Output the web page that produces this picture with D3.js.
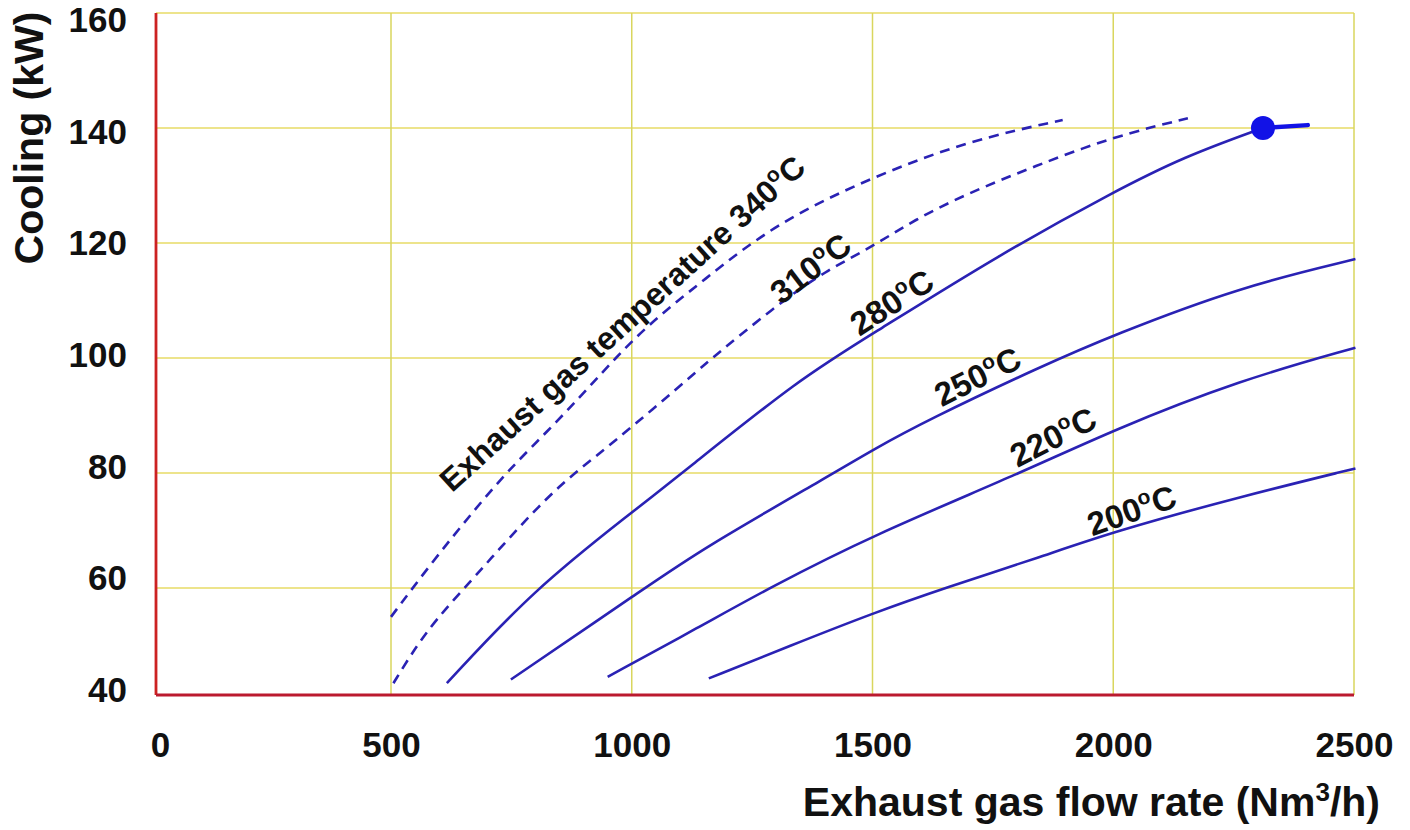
<!DOCTYPE html>
<html>
<head>
<meta charset="utf-8">
<script src="https://cdn.jsdelivr.net/npm/d3@7"></script>
<style>
  html, body { margin: 0; padding: 0; background: #ffffff; }
  svg { display: block; font-family: "Liberation Sans", Arial, sans-serif; }
</style>
</head>
<body>
<svg id="chart" width="1410" height="830"></svg>
<script>
// ---- data ----
const xTicks = [0, 500, 1000, 1500, 2000, 2500];
const yTicks = [40, 60, 80, 100, 120, 140, 160];

const flow340 = [500, 590, 665, 740, 845, 940, 1025, 1150, 1300, 1500, 1700, 1895];
const cool340 = [54.6, 65, 72.7, 80.2, 88.9, 97.6, 105.2, 113.6, 123.5, 131.5, 137.8, 141.4];

const flow310 = [505, 543, 592, 668, 723, 786, 855, 924, 1000, 1090, 1163, 1212, 1316, 1406, 1501, 1586, 1697, 1835, 2000, 2155];
const cool310 = [42.2, 47.8, 54, 61.4, 66.6, 72.4, 78.2, 82.8, 88, 94.4, 99.7, 103.1, 110.1, 115.3, 119.4, 124, 128.6, 133.3, 138.5, 141.7];

const flow280 = [616, 795, 1001, 1105, 1350, 1502, 1766, 2001, 2147, 2311];
const cool280 = [42.2, 59.6, 73.2, 80, 96.5, 104.3, 118.1, 128.9, 135, 140];

const flow250 = [749, 1028, 1142, 1420, 1500, 1614, 1849, 2000, 2265, 2503];
const cool250 = [42.9, 60, 66.6, 80, 84, 89.2, 98.5, 104, 112.4, 117.2];

const flow220 = [950, 1142, 1285, 1501, 1808, 2000, 2265, 2503];
const cool220 = [43.4, 52.8, 60, 69.2, 80, 87.5, 96.2, 101.8];

const flow200 = [1160, 1329, 1501, 1650, 1849, 2000, 2265, 2503];
const cool200 = [43.1, 49.2, 55.3, 60, 65.4, 69.8, 75.9, 80.8];

const pointFlow = [2311, 2404];
const pointCool = [140, 140.5];

const labelTexts = ["Exhaust gas temperature 340", "310", "280", "250", "220", "200"];
const labelFlow  = [996, 1386, 1553, 1729, 1886, 2046];
const labelCool  = [104.6, 114, 108, 95, 84.5, 71.6];
const labelAngle = [-42.3, -37.5, -32.7, -26.6, -27, -19.4];

// ---- scales ----
const svg = d3.select("#chart");
const x = d3.scaleLinear().domain([0, 500, 2500]).range([156, 391, 1354]);
const y = d3.scaleLinear().domain([40, 60, 160]).range([695, 588, 13]);
// tick labels in the reference sit on a slightly different spacing than the grid
const yLab = d3.scaleLinear().domain([40, 160]).range([690, 20.5]);

// ---- grid ----
const grid = svg.append("g");
grid.selectAll("line.h").data(yTicks.filter(v => v > 40)).enter().append("line")
  .attr("x1", x(0)).attr("x2", x(2500))
  .attr("y1", d => y(d)).attr("y2", d => y(d))
  .attr("stroke", "#ede48c").attr("stroke-width", 2.2);
grid.selectAll("line.v").data(xTicks.filter(v => v > 0)).enter().append("line")
  .attr("x1", d => x(d)).attr("x2", d => x(d))
  .attr("y1", y(160)).attr("y2", y(40))
  .attr("stroke", "#d9d65e").attr("stroke-width", 1.5);

// ---- red axes ----
svg.append("line").attr("x1", x(0)).attr("x2", x(0)).attr("y1", y(160)).attr("y2", y(40))
  .attr("stroke", "#cc2222").attr("stroke-width", 2.8);
svg.append("line").attr("x1", x(0)).attr("x2", x(2500)).attr("y1", y(40)).attr("y2", y(40))
  .attr("stroke", "#bb1a2e").attr("stroke-width", 3.2);

// ---- tick labels via d3 axes ----
const yAxis = svg.append("g").attr("transform", `translate(${x(0)},0)`)
  .call(d3.axisLeft(yLab).tickValues(yTicks).tickSize(0).tickPadding(29).tickFormat(d3.format("d")));
yAxis.select(".domain").remove();
yAxis.selectAll("text").attr("font-size", 35).attr("font-weight", "bold")
  .attr("fill", "#111").attr("font-family", "Liberation Sans, Arial, sans-serif");

const xAxis = svg.append("g").attr("transform", `translate(0,${y(40)})`)
  .call(d3.axisBottom(x).tickValues(xTicks).tickSize(0).tickPadding(37).tickFormat(d3.format("d")));
xAxis.select(".domain").remove();
xAxis.selectAll("text").attr("font-size", 35).attr("font-weight", "bold")
  .attr("fill", "#111").attr("font-family", "Liberation Sans, Arial, sans-serif");
xAxis.selectAll(".tick").filter(d => d === 0).select("text").attr("dx", 4);

// ---- axis titles ----
svg.append("text").attr("transform", "translate(43,138) rotate(-90)")
  .attr("text-anchor", "middle").attr("font-size", 41).attr("font-weight", "bold")
  .attr("fill", "#111").text("Cooling (kW)");

const xt = svg.append("text").attr("x", 1380).attr("y", 816)
  .attr("text-anchor", "end").attr("font-size", 41).attr("font-weight", "bold").attr("fill", "#111");
xt.append("tspan").text("Exhaust gas flow rate (Nm");
xt.append("tspan").attr("font-size", 26).attr("dy", -15).text("3");
xt.append("tspan").attr("dy", 15).text("/h)");

// ---- curves ----
const line = d3.line().x(d => x(d[0])).y(d => y(d[1])).curve(d3.curveBasis);
const series = [
  {f: flow340, c: cool340, dash: "10,7"},
  {f: flow310, c: cool310, dash: "10,7"},
  {f: flow280, c: cool280, dash: null},
  {f: flow250, c: cool250, dash: null},
  {f: flow220, c: cool220, dash: null},
  {f: flow200, c: cool200, dash: null}
];
series.forEach(s => {
  const pts = s.f.map((v, i) => [v, s.c[i]]);
  svg.append("path").attr("d", line(pts)).attr("fill", "none")
    .attr("stroke", "#2a22b4").attr("stroke-width", 2.6)
    .attr("stroke-dasharray", s.dash);
});

// ---- design point marker ----
svg.append("line").attr("x1", x(pointFlow[0])).attr("y1", y(pointCool[0]))
  .attr("x2", x(pointFlow[1])).attr("y2", y(pointCool[1]))
  .attr("stroke", "#1212e6").attr("stroke-width", 4.5).attr("stroke-linecap", "round");
svg.append("circle").attr("cx", x(pointFlow[0])).attr("cy", y(pointCool[0])).attr("r", 12)
  .attr("fill", "#1212e6");

// ---- curve labels ----
labelTexts.forEach((t, i) => {
  const fs = i === 0 ? 32 : 33;
  const g = svg.append("text")
    .attr("transform", `translate(${x(labelFlow[i])},${y(labelCool[i])}) rotate(${labelAngle[i]})`)
    .attr("text-anchor", "middle").attr("font-size", fs).attr("font-weight", "bold").attr("fill", "#111");
  g.append("tspan").text(t);
  g.append("tspan").attr("font-size", 21).attr("dy", -13).text("o");
  g.append("tspan").attr("dy", 13).text("C");
});
</script>
</body>
</html>
